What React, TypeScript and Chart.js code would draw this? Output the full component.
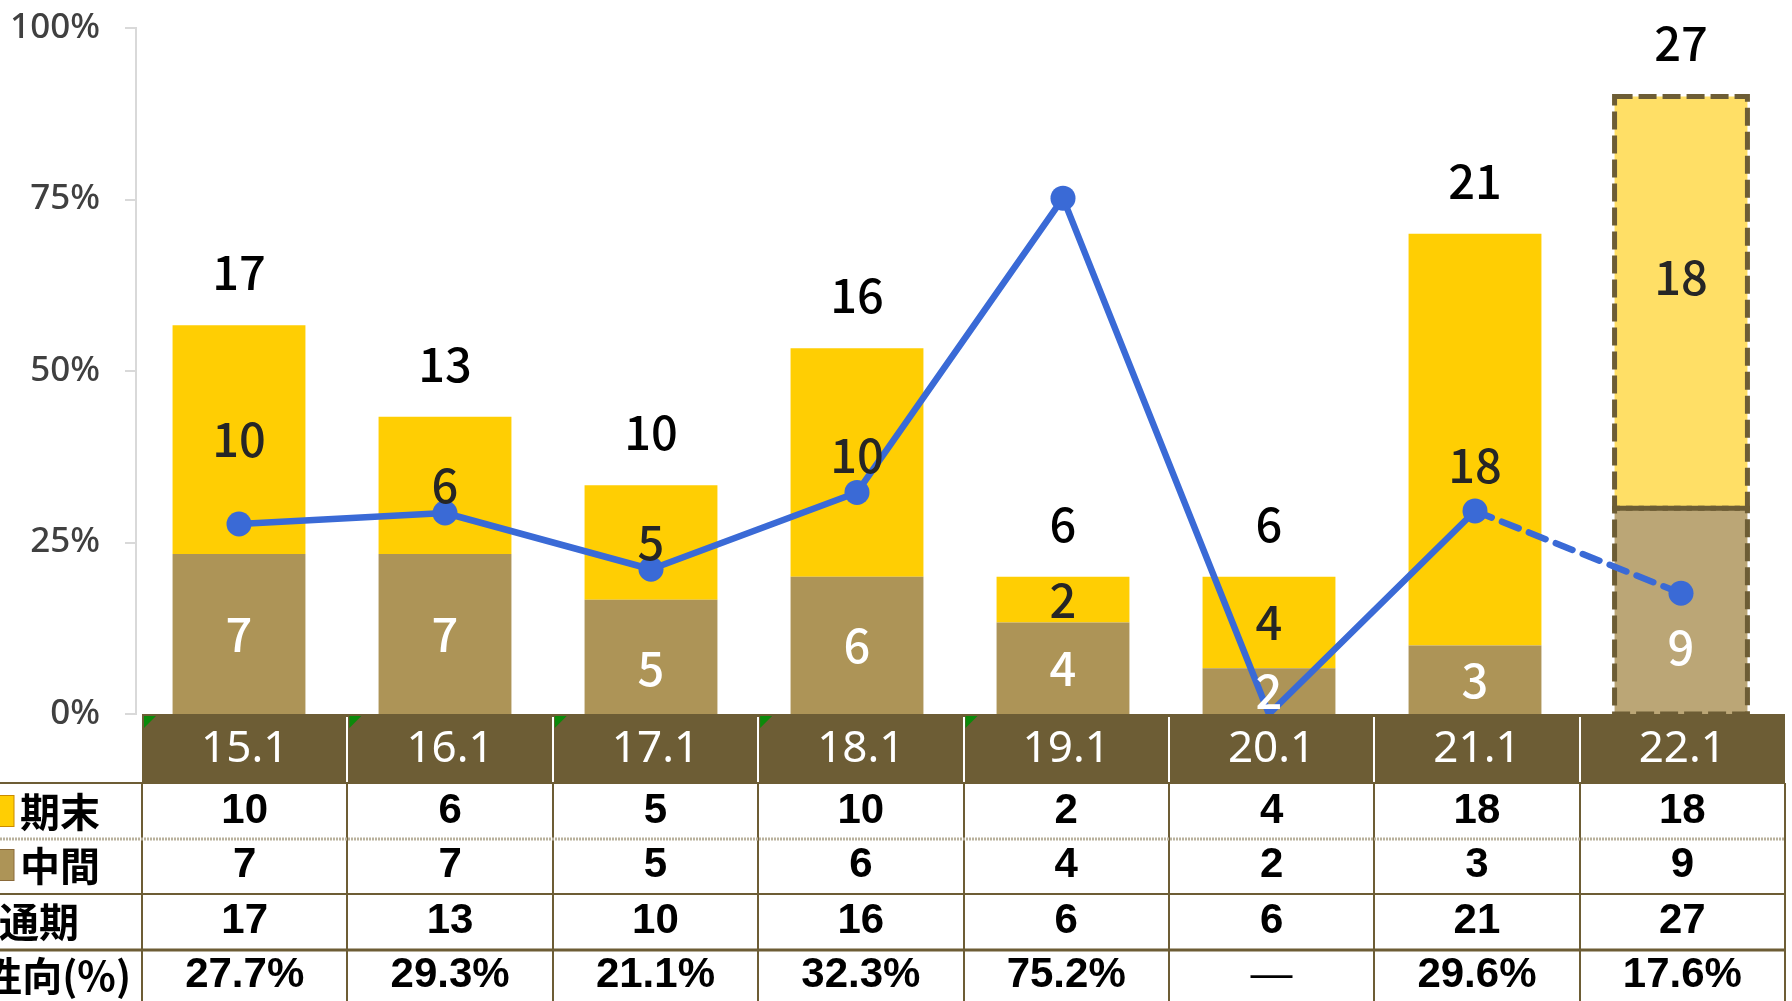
import React, { useEffect, useRef } from 'react';
import { Chart, registerables } from 'chart.js';

Chart.register(...registerables);

// ---- data ----
const categories = ['15.1', '16.1', '17.1', '18.1', '19.1', '20.1', '21.1', '22.1'];
const interimValues = [7, 7, 5, 6, 4, 2, 3, 9];
const yearEndValues = [10, 6, 5, 10, 2, 4, 18, 18];
const payoutRatio = [27.7, 29.3, 21.1, 32.3, 75.2, 0, 29.6, 17.6];
const payoutLabels = ['27.7%', '29.3%', '21.1%', '32.3%', '75.2%', '—', '29.6%', '17.6%'];
const rowLabels = ['期末', '中間', '通期', '配当性向(%)'];
const yTickSuffix = '%';
const forecastIndex = 7; // 22.1 is a forecast
const zeroRatioIndex = 5; // 20.1 has no payout ratio marker
const errorFlagColumns = [0, 1, 2, 3, 4];

const totals = interimValues.map((v, i) => v + yearEndValues[i]);

// label nudges (px) for in-bar labels
const interimNudge = [0, 0, 11, 0, 0, 0, 0, 36];
const yearEndNudge = [0, 0, 0, -7, 0, 0, 26, -25];

// ---- styles ----
const YELLOW = '#FFCE03';
const YELLOW_FC = '#FFDF66';
const TAN = '#AD9457';
const TAN_FC = '#BBA676';
const OLIVE = '#6D5D35';
const BLUE = '#3A6AD6';
const AXIS_GREY = '#D9D9D9';
const CJK = '"Noto Sans CJK JP", "Noto Sans", sans-serif';

const TABLE_LEFT = 142;
const TABLE_RIGHT = 1785;
const HEADER_TOP = 714;
const ROW_LINES = [783, 839, 894, 950];
const ROW_BOTTOM = 1006;

const dashedForecastPlugin = {
  id: 'dashedForecast',
  afterDatasetDraw(chart: any, args: any) {
    if (args.index !== 1) return;
    const ctx = chart.ctx;
    ctx.save();
    ctx.strokeStyle = OLIVE;
    ctx.lineWidth = 5;
    ctx.setLineDash([18, 6]);
    [1, 2].forEach((di) => {
      const bar = chart.getDatasetMeta(di).data[forecastIndex];
      if (!bar) return;
      const { x, y, base, width } = bar.getProps(['x', 'y', 'base', 'width'], true);
      ctx.strokeRect(x - width / 2, y, width, base - y);
    });
    ctx.restore();
  },
};

const barLabelsPlugin = {
  id: 'barLabels',
  afterDatasetsDraw(chart: any) {
    const ctx = chart.ctx;
    const mInt = chart.getDatasetMeta(1);
    const mEnd = chart.getDatasetMeta(2);
    ctx.save();
    ctx.textAlign = 'center';
    ctx.textBaseline = 'middle';
    ctx.font = `500 47px ${CJK}`;
    categories.forEach((_, i) => {
      const bI = mInt.data[i].getProps(['x', 'y', 'base'], true);
      const bE = mEnd.data[i].getProps(['x', 'y', 'base'], true);
      ctx.fillStyle = '#FFFFFF';
      ctx.fillText(String(interimValues[i]), bI.x, (bI.y + bI.base) / 2 + interimNudge[i]);
      ctx.fillStyle = '#262626';
      ctx.fillText(String(yearEndValues[i]), bE.x, (bE.y + bE.base) / 2 + yearEndNudge[i]);
      ctx.fillStyle = '#000000';
      ctx.fillText(String(totals[i]), bE.x, bE.y - 53);
    });
    ctx.restore();
  },
};

const tablePlugin = {
  id: 'dataTable',
  afterDraw(chart: any) {
    const ctx = chart.ctx;
    const n = categories.length;
    const colW = (TABLE_RIGHT - TABLE_LEFT) / n;
    ctx.save();
    // header band
    ctx.fillStyle = OLIVE;
    ctx.fillRect(TABLE_LEFT, HEADER_TOP, TABLE_RIGHT - TABLE_LEFT, ROW_LINES[0] - HEADER_TOP);
    // white background for body
    ctx.fillStyle = '#FFFFFF';
    ctx.fillRect(0, ROW_LINES[0], TABLE_RIGHT, ROW_BOTTOM - ROW_LINES[0]);
    // header separators
    ctx.strokeStyle = '#FFFFFF';
    ctx.lineWidth = 2;
    for (let k = 1; k < n; k++) {
      const x = Math.round(TABLE_LEFT + k * colW);
      ctx.beginPath();
      ctx.moveTo(x, HEADER_TOP + 3);
      ctx.lineTo(x, ROW_LINES[0]);
      ctx.stroke();
    }
    // error flags
    ctx.fillStyle = '#0B8A0B';
    errorFlagColumns.forEach((k) => {
      const x0 = TABLE_LEFT + k * colW + 2;
      const y0 = HEADER_TOP + 2;
      ctx.beginPath();
      ctx.moveTo(x0, y0);
      ctx.lineTo(x0 + 12, y0);
      ctx.lineTo(x0, y0 + 12);
      ctx.closePath();
      ctx.fill();
    });
    // header text
    ctx.fillStyle = '#FFFFFF';
    ctx.textAlign = 'center';
    ctx.textBaseline = 'middle';
    ctx.font = `44px "Noto Sans", ${CJK}`;
    categories.forEach((c, k) => {
      ctx.fillText(c, TABLE_LEFT + (k + 0.5) * colW, 749);
    });
    // body lines
    ctx.strokeStyle = OLIVE;
    ctx.lineWidth = 2;
    for (let k = 0; k <= n; k++) {
      const x = Math.round(TABLE_LEFT + k * colW);
      ctx.beginPath();
      ctx.moveTo(x, ROW_LINES[0]);
      ctx.lineTo(x, ROW_BOTTOM);
      ctx.stroke();
    }
    const hLine = (y: number, w: number, color: string, dash: number[]) => {
      ctx.save();
      ctx.strokeStyle = color;
      ctx.lineWidth = w;
      ctx.setLineDash(dash);
      ctx.beginPath();
      ctx.moveTo(0, y);
      ctx.lineTo(TABLE_RIGHT, y);
      ctx.stroke();
      ctx.restore();
    };
    hLine(ROW_LINES[0], 2, OLIVE, []);
    hLine(ROW_LINES[1], 3, '#B9B19C', [2, 1]);
    hLine(ROW_LINES[2], 2, OLIVE, []);
    hLine(ROW_LINES[3], 3, OLIVE, []);
    // body values
    const rows = [
      yearEndValues.map(String),
      interimValues.map(String),
      totals.map(String),
      payoutLabels,
    ];
    const rowCenters = [811, 865, 921, 975];
    ctx.fillStyle = '#000000';
    rows.forEach((r, ri) => {
      r.forEach((t, k) => {
        ctx.font = t === '—' ? '42px "Liberation Sans", Arial, sans-serif' : 'bold 42px "Liberation Sans", Arial, sans-serif';
        ctx.fillText(t, TABLE_LEFT + (k + 0.5) * colW, rowCenters[ri]);
      });
    });
    // row labels
    ctx.font = `bold 40px ${CJK}`;
    ctx.textAlign = 'right';
    const labelRight = [100, 100, 79, 131];
    rowLabels.forEach((t, ri) => {
      ctx.fillText(t, labelRight[ri], rowCenters[ri] + 1);
    });
    // legend squares
    ctx.fillStyle = YELLOW;
    ctx.fillRect(-18, 795, 32, 32);
    ctx.strokeStyle = '#C98A00';
    ctx.lineWidth = 1;
    ctx.strokeRect(-18, 795.5, 32, 31);
    ctx.fillStyle = TAN;
    ctx.fillRect(-18, 849, 32, 32);
    ctx.strokeStyle = '#8A6A3A';
    ctx.strokeRect(-18, 849.5, 32, 31);
    ctx.restore();
  },
};

export default function App() {
  const canvasRef = useRef<HTMLCanvasElement | null>(null);

  useEffect(() => {
    document.body.style.margin = '0';
    const canvas = canvasRef.current;
    if (!canvas) return;
    const chart = new Chart(canvas, {
      data: {
        labels: categories,
        datasets: [
          {
            type: 'line',
            label: '配当性向',
            data: payoutRatio,
            yAxisID: 'y2',
            borderColor: BLUE,
            backgroundColor: BLUE,
            borderWidth: 6.5,
            borderCapStyle: 'round',
            borderJoinStyle: 'round',
            pointRadius: payoutRatio.map((_, i) => (i === zeroRatioIndex ? 0 : 12.5)),
            pointHoverRadius: payoutRatio.map((_, i) => (i === zeroRatioIndex ? 0 : 12.5)),
            pointBorderWidth: 0,
            pointBackgroundColor: BLUE,
            segment: {
              borderDash: (c: any) => (c.p1DataIndex === forecastIndex ? [18, 11] : undefined),
            },
            order: 0,
            clip: false,
          } as any,
          {
            type: 'bar',
            label: '中間',
            data: interimValues,
            stack: 's',
            backgroundColor: interimValues.map((_, i) => (i === forecastIndex ? TAN_FC : TAN)),
            borderWidth: 0,
            barPercentage: 0.645,
            categoryPercentage: 1,
            order: 1,
            yAxisID: 'y',
          },
          {
            type: 'bar',
            label: '期末',
            data: yearEndValues,
            stack: 's',
            backgroundColor: yearEndValues.map((_, i) => (i === forecastIndex ? YELLOW_FC : YELLOW)),
            borderWidth: 0,
            barPercentage: 0.645,
            categoryPercentage: 1,
            order: 1,
            yAxisID: 'y',
          },
        ],
      },
      options: {
        animation: false,
        responsive: false,
        maintainAspectRatio: false,
        layout: { autoPadding: false, padding: { left: 0, right: 8, top: 28, bottom: 287 } },
        plugins: { legend: { display: false }, tooltip: { enabled: false } },
        scales: {
          x: { display: false, offset: true, stacked: true },
          y: { display: false, stacked: true, min: 0, max: 30 },
          y2: {
            position: 'left',
            min: 0,
            max: 100,
            ticks: {
              stepSize: 25,
              callback: (v: any) => `${v}${yTickSuffix}`,
              color: '#404040',
              font: { size: 35, weight: '500', family: '"Noto Sans", sans-serif' },
              padding: 25,
            },
            grid: { drawOnChartArea: false, drawTicks: true, tickLength: 11, color: AXIS_GREY, lineWidth: 2 },
            border: { display: true, color: AXIS_GREY, width: 2 },
            afterFit: (s: any) => {
              s.width = 136;
              s.paddingTop = 0;
              s.paddingBottom = 0;
            },
          },
        },
      } as any,
      plugins: [dashedForecastPlugin, barLabelsPlugin, tablePlugin],
    });
    return () => chart.destroy();
  }, []);

  return (
    <div style={{ position: 'absolute', left: 0, top: 0, width: 1792, height: 1001, background: '#fff' }}>
      <canvas ref={canvasRef} width={1792} height={1001} style={{ display: 'block' }} />
    </div>
  );
}
